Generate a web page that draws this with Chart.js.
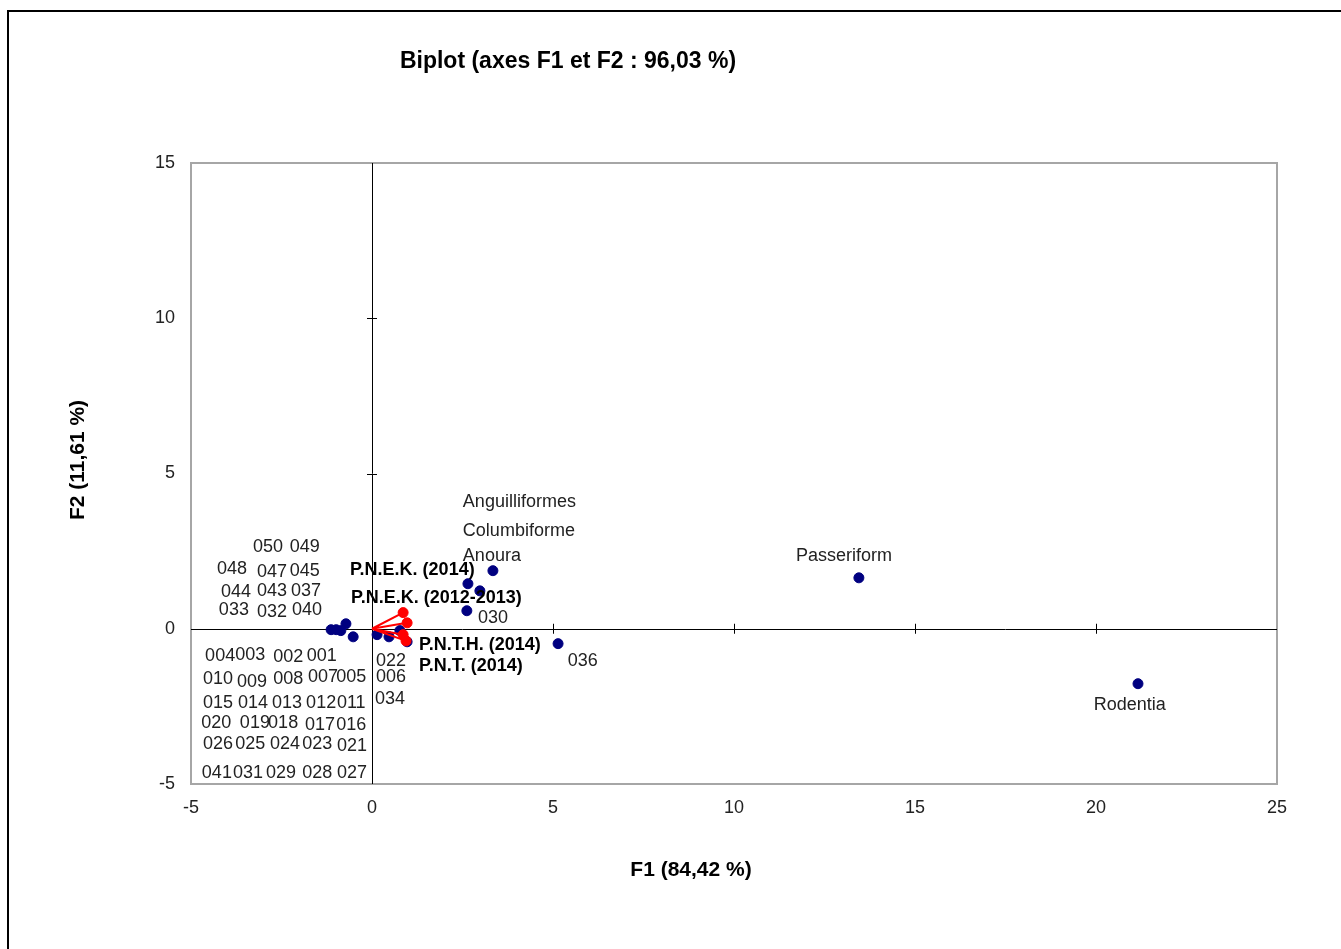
<!DOCTYPE html>
<html>
<head>
<meta charset="utf-8">
<title>Biplot (axes F1 et F2)</title>
<script src="https://cdn.jsdelivr.net/npm/chart.js@4.4.0/dist/chart.umd.min.js"></script>
<style>
  body { margin: 0; background: #fff; }
  #wrap { width: 1341px; height: 949px; }
</style>
</head>
<body>
<div id="wrap"><canvas id="biplot" width="1341" height="949"></canvas></div>
<script>
// Observations (points bleus)
const obsX = [-1.13, -0.99, -0.86, -0.72, -0.52, 0.14, 0.47, 0.77, 0.97, 2.62, 2.65, 2.98, 3.34, 5.14, 13.45, 21.16];
const obsY = [-0.03, -0.03, -0.06, 0.16, -0.26, -0.19, -0.26, -0.06, -0.42, 0.58, 1.45, 1.22, 1.87, -0.48, 1.64, -1.77];

// Variables (vecteurs rouges)
const varNames = ["P.N.E.K. (2014)", "P.N.E.K. (2012-2013)", "P.N.T.H. (2014)", "P.N.T. (2014)"];
const varX = [0.86, 0.97, 0.86, 0.94];
const varY = [0.52, 0.19, -0.19, -0.39];

// Graduations
const xTicks = [-5, 0, 5, 10, 15, 20, 25];
const yTicks = [-5, 0, 5, 10, 15];

// Etiquettes des observations (texte + ancre en unités du graphique)
const obsLabels = ["050", "049", "048", "047", "045", "044", "043", "037", "033", "032", "040",
  "004", "003", "002", "001", "010", "009", "008", "007", "005",
  "015", "014", "013", "012", "011", "020", "019", "018", "017", "016",
  "026", "025", "024", "023", "021", "041", "031", "029", "028", "027",
  "022", "006", "034", "030", "036",
  "Anguilliformes", "Columbiforme", "Anoura", "Passeriform", "Rodentia"];
const obsLabelX = [-3.29, -2.27, -4.28, -3.18, -2.27, -4.17, -3.18, -2.24, -4.23, -3.18, -2.21,
  -4.61, -3.78, -2.73, -1.80, -4.67, -3.73, -2.73, -1.77, -0.99,
  -4.67, -3.70, -2.76, -1.82, -0.97, -4.72, -3.65, -2.87, -1.85, -0.99,
  -4.67, -3.78, -2.82, -1.93, -0.97, -4.70, -3.84, -2.93, -1.93, -0.97,
  0.11, 0.11, 0.08, 2.93, 5.41,
  2.51, 2.51, 2.51, 11.71, 19.94];
const obsLabelY = [2.64, 2.64, 1.93, 1.84, 1.87, 1.19, 1.22, 1.22, 0.61, 0.55, 0.61,
  -0.87, -0.84, -0.90, -0.87, -1.61, -1.71, -1.61, -1.55, -1.55,
  -2.38, -2.38, -2.38, -2.38, -2.38, -3.03, -3.03, -3.03, -3.09, -3.09,
  -3.70, -3.70, -3.70, -3.70, -3.77, -4.64, -4.64, -4.64, -4.64, -4.64,
  -1.03, -1.55, -2.25, 0.35, -1.03,
  4.09, 3.16, 2.35, 2.35, -2.45];

// Etiquettes des variables
const varLabelX = [-0.61, -0.58, 1.30, 1.30];
const varLabelY = [1.90, 1.00, -0.52, -1.19];

const FONT = "'Liberation Sans', Arial, sans-serif";

const obsPoints = obsX.map((x, i) => ({ x: x, y: obsY[i] }));
const varPoints = varX.map((x, i) => ({ x: x, y: varY[i] }));
// segments origine -> variable
const vectorPoints = [];
varPoints.forEach(p => {
  vectorPoints.push({ x: 0, y: 0 });
  vectorPoints.push(p);
  vectorPoints.push({ x: NaN, y: NaN });
});

const decorPlugin = {
  id: "decor",
  beforeDatasetsDraw(chart) {
    const ctx = chart.ctx;
    const a = chart.chartArea;
    const xs = chart.scales.x, ys = chart.scales.y;
    const x0 = xs.getPixelForValue(0), y0 = ys.getPixelForValue(0);
    ctx.save();

    // cadre extérieur
    ctx.strokeStyle = "#000";
    ctx.lineWidth = 2;
    ctx.beginPath();
    ctx.moveTo(8, 949);
    ctx.lineTo(8, 11);
    ctx.lineTo(1341, 11);
    ctx.stroke();

    // cadre du graphique
    ctx.strokeStyle = "#a6a6a6";
    ctx.lineWidth = 2;
    ctx.strokeRect(a.left, a.top, a.right - a.left, a.bottom - a.top);

    // axes passant par l'origine
    ctx.strokeStyle = "#000";
    ctx.lineWidth = 1;
    ctx.beginPath();
    ctx.moveTo(a.left, Math.round(y0) + 0.5);
    ctx.lineTo(a.right, Math.round(y0) + 0.5);
    ctx.moveTo(Math.round(x0) + 0.5, a.top);
    ctx.lineTo(Math.round(x0) + 0.5, a.bottom);
    xTicks.slice(1, -1).forEach(v => {
      if (v === 0) return;
      const px = Math.round(xs.getPixelForValue(v)) + 0.5;
      ctx.moveTo(px, y0 - 5);
      ctx.lineTo(px, y0 + 5);
    });
    yTicks.slice(1, -1).forEach(v => {
      if (v === 0) return;
      const py = Math.round(ys.getPixelForValue(v)) + 0.5;
      ctx.moveTo(x0 - 5, py);
      ctx.lineTo(x0 + 5, py);
    });
    ctx.stroke();

    // titres
    ctx.fillStyle = "#000";
    ctx.textAlign = "center";
    ctx.textBaseline = "middle";
    ctx.font = "bold 23px " + FONT;
    ctx.fillText("Biplot (axes F1 et F2 : 96,03 %)", 568, 62);
    ctx.font = "bold 21px " + FONT;
    ctx.fillText("F1 (84,42 %)", 691, 870);
    ctx.save();
    ctx.translate(78, 460);
    ctx.rotate(-Math.PI / 2);
    ctx.fillText("F2 (11,61 %)", 0, 0);
    ctx.restore();

    ctx.restore();
  },
  afterDatasetsDraw(chart) {
    const ctx = chart.ctx;
    const xs = chart.scales.x, ys = chart.scales.y;
    ctx.save();
    ctx.textAlign = "left";
    ctx.textBaseline = "middle";
    ctx.fillStyle = "#222";
    ctx.font = "18px " + FONT;
    obsLabels.forEach((t, i) => {
      ctx.fillText(t, xs.getPixelForValue(obsLabelX[i]), ys.getPixelForValue(obsLabelY[i]));
    });
    ctx.fillStyle = "#000";
    ctx.font = "bold 18px " + FONT;
    varNames.forEach((t, i) => {
      ctx.fillText(t, xs.getPixelForValue(varLabelX[i]), ys.getPixelForValue(varLabelY[i]));
    });
    ctx.restore();
  }
};

new Chart(document.getElementById("biplot").getContext("2d"), {
  type: "scatter",
  data: {
    datasets: [
      {
        type: "line",
        label: "vecteurs",
        data: vectorPoints,
        borderColor: "#ff0000",
        borderWidth: 2,
        pointRadius: 0,
        spanGaps: false,
        fill: false
      },
      {
        label: "Variables",
        data: varPoints,
        backgroundColor: "#ff0000",
        borderColor: "#ff0000",
        pointRadius: 5
      },
      {
        label: "Observations",
        data: obsPoints,
        backgroundColor: "#000080",
        borderColor: "#000080",
        pointRadius: 5
      }
    ]
  },
  options: {
    responsive: false,
    animation: false,
    layout: { padding: { top: 163, right: 64, bottom: 0, left: 0 } },
    plugins: {
      legend: { display: false },
      tooltip: { enabled: false }
    },
    scales: {
      x: {
        type: "linear",
        min: -5,
        max: 25,
        afterBuildTicks: s => { s.ticks = xTicks.map(v => ({ value: v })); },
        afterFit: s => { s.height = 165; },
        grid: { display: false, drawTicks: false },
        border: { display: false },
        ticks: { padding: 13, color: "#222", font: { family: FONT, size: 18 }, maxRotation: 0 }
      },
      y: {
        type: "linear",
        min: -5,
        max: 15,
        afterBuildTicks: s => { s.ticks = yTicks.map(v => ({ value: v })); },
        afterFit: s => { s.width = 191; },
        grid: { display: false, drawTicks: false },
        border: { display: false },
        ticks: { padding: 16, color: "#222", font: { family: FONT, size: 18 } }
      }
    }
  },
  plugins: [decorPlugin]
});
</script>
</body>
</html>
